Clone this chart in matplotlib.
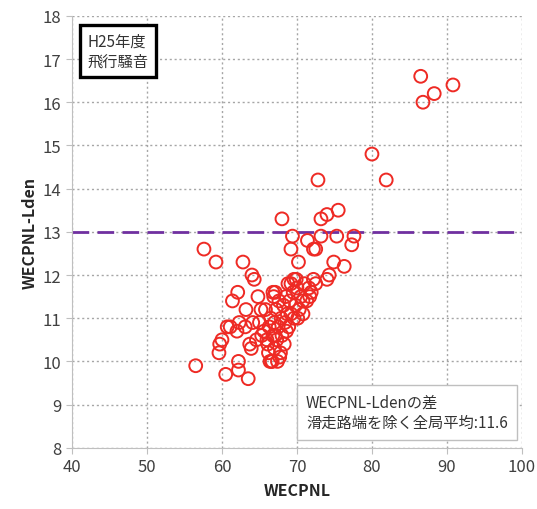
import matplotlib.pyplot as plt

plt.rcParams['font.family'] = ['Noto Sans CJK JP', 'DejaVu Sans']

# WECPNL vs (WECPNL - Lden)
wecpnl = [
    86.5, 86.8, 88.3, 90.8, 80.0, 81.9,
    72.8, 68.0, 73.2, 74.0, 75.5, 69.4, 69.2, 71.4, 72.2, 72.5, 73.2, 75.3, 77.6, 77.3,
    70.2, 74.9, 76.3, 74.3, 74.0, 72.2, 69.6, 69.2, 71.6, 71.7, 70.8, 66.8, 68.6, 67.7,
    57.6, 59.2, 62.8, 64.0, 64.3, 62.1, 61.4, 64.8, 63.2, 65.2, 67.1,
    60.7, 61.1, 62.0, 62.3, 63.1, 64.1, 60.0, 59.7, 59.6, 63.7, 63.9,
    56.5, 60.5, 62.2, 62.2, 63.5, 66.6, 66.4,
    66.0, 66.3, 66.5, 66.8, 67.0, 67.0, 67.2, 67.3, 67.5, 67.6, 67.8, 67.9, 68.0, 68.2,
    68.4, 68.5, 68.7, 68.9, 69.0, 69.2, 69.5, 69.8, 70.0, 70.3, 70.5, 65.6, 66.2, 66.7,
    67.4, 65.8, 66.9, 68.8, 69.6, 70.8, 71.3, 71.9, 72.5, 69.9, 68.3, 67.1,
    65.3, 65.0, 64.6, 66.1, 71.0, 70.1,
]
diff = [
    16.6, 16.0, 16.2, 16.4, 14.8, 14.2,
    14.2, 13.3, 13.3, 13.4, 13.5, 12.9, 12.6, 12.8, 12.6, 12.6, 12.9, 12.9, 12.9, 12.7,
    12.3, 12.3, 12.2, 12.0, 11.9, 11.9, 11.9, 11.8, 11.7, 11.5, 11.4, 11.6, 10.7, 10.1,
    12.6, 12.3, 12.3, 12.0, 11.9, 11.6, 11.4, 11.5, 11.2, 11.2, 11.6,
    10.8, 10.8, 10.7, 10.9, 10.8, 10.9, 10.5, 10.4, 10.2, 10.4, 10.3,
    9.9, 9.7, 10.0, 9.8, 9.6, 10.0, 10.0,
    10.5, 10.8, 11.0, 10.6, 10.3, 10.9, 11.2, 10.5, 10.8, 11.4, 10.2, 11.0, 10.6, 11.3,
    10.9, 11.5, 11.1, 10.8, 11.4, 11.1, 11.6, 11.3, 11.7, 11.2, 11.5, 10.7, 10.2, 10.0,
    10.0, 11.2, 11.5, 11.8, 11.0, 11.1, 11.4, 11.6, 11.8, 11.9, 10.4, 10.6,
    10.6, 10.9, 10.5, 10.4, 11.8, 11.0,
]
mean_line = 13.0
x_ticks = [40, 50, 60, 70, 80, 90, 100]
y_ticks = list(range(8, 19))

fig = plt.figure(figsize=(5.37, 5.10), dpi=100)
ax = fig.add_axes([0.134, 0.12, 0.838, 0.847])

ax.scatter(wecpnl, diff, s=85, facecolors='none', edgecolors='#EE2A24', linewidths=1.4, zorder=3)
ax.axhline(mean_line, color='#7030A0', lw=2, ls=(0, (6, 3)), zorder=2)

ax.set_xlim(40, 100)
ax.set_ylim(8, 18)
ax.set_xticks(x_ticks)
ax.set_yticks(y_ticks)
ax.grid(True, color='#A6A6A6', ls=(0, (1.5, 2)), lw=1)
ax.set_axisbelow(True)
for s in ['top', 'right']:
    ax.spines[s].set_visible(False)
for s in ['left', 'bottom']:
    ax.spines[s].set_color('#BFBFBF')
ax.tick_params(colors='#BFBFBF', labelcolor='#404040', labelsize=12, length=4)

ax.set_xlabel('WECPNL', fontsize=11.5, fontweight='bold', color='#262626', labelpad=5)
ax.set_ylabel('WECPNL-Lden', fontsize=11.5, fontweight='bold', color='#262626', labelpad=4)

ax.text(0.035, 0.96, 'H25年度\n飛行騒音', transform=ax.transAxes, fontsize=11, va='top', ha='left',
        color='#333333', linespacing=1.2,
        bbox=dict(boxstyle='square,pad=0.5', fc='white', ec='black', lw=2.4))
ax.text(0.52, 0.125, 'WECPNL-Ldenの差\n滑走路端を除く全局平均:11.6', transform=ax.transAxes,
        fontsize=11, va='top', ha='left', color='#333333', linespacing=1.25,
        bbox=dict(boxstyle='square,pad=0.6', fc='white', ec='#BFBFBF', lw=1))

fig.savefig('out.png', dpi=100)
